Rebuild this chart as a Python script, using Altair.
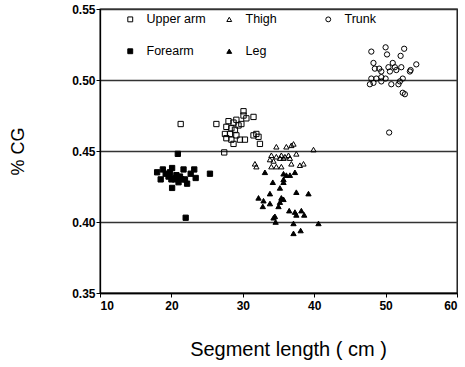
import altair as alt
import pandas as pd

parts = ["Upper arm", "Thigh", "Trunk", "Forearm", "Leg"]

upper_arm_x = [21.3, 26.3, 30.1, 30.1, 31.5, 30.5, 29.1, 28.0, 28.7, 29.4, 29.8, 27.7, 28.4, 28.9,
               27.5, 28.2, 29.1, 27.7, 28.4, 29.6, 30.3, 31.5, 31.9, 32.2, 32.4, 28.7, 27.4]
upper_arm_y = [0.469, 0.469, 0.478, 0.475, 0.474, 0.473, 0.472, 0.471, 0.470, 0.468, 0.469, 0.467, 0.466, 0.465,
               0.462, 0.462, 0.461, 0.459, 0.458, 0.458, 0.458, 0.461, 0.462, 0.460, 0.455, 0.455, 0.449]

forearm_x = [20.9, 18.0, 18.8, 19.2, 20.1, 19.8, 21.7, 23.2, 22.7, 23.4, 18.5, 20.3, 20.7, 21.2,
             20.5, 20.0, 21.4, 21.9, 21.0, 22.2, 20.1, 25.4, 22.0, 19.6]
forearm_y = [0.448, 0.435, 0.437, 0.434, 0.438, 0.435, 0.437, 0.437, 0.434, 0.431, 0.430, 0.431, 0.433, 0.432,
             0.430, 0.430, 0.430, 0.430, 0.428, 0.427, 0.424, 0.434, 0.403, 0.432]

thigh_x = [34.7, 36.1, 36.8, 37.1, 39.9, 34.0, 34.7, 35.4, 35.9, 36.4, 35.2, 35.7, 36.6, 33.8,
           37.5, 34.3, 31.7, 31.9, 34.0, 34.7, 35.4, 36.8, 38.0, 38.5]
thigh_y = [0.453, 0.453, 0.454, 0.455, 0.451, 0.447, 0.446, 0.447, 0.446, 0.447, 0.445, 0.445, 0.445, 0.444,
           0.448, 0.443, 0.441, 0.439, 0.439, 0.439, 0.439, 0.441, 0.440, 0.441]

leg_x = [33.1, 35.7, 36.1, 36.6, 37.3, 35.7, 34.2, 35.2, 37.5, 39.2, 35.7, 33.8, 32.2, 32.9, 35.4,
         35.7, 35.2, 33.8, 32.8, 35.0, 36.5, 37.3, 38.2, 37.5, 38.6, 34.5, 34.3, 34.6, 37.1, 40.6,
         37.1, 38.1]
leg_y = [0.435, 0.434, 0.433, 0.433, 0.435, 0.430, 0.428, 0.424, 0.421, 0.420, 0.428, 0.420, 0.417, 0.415, 0.417,
         0.416, 0.414, 0.413, 0.411, 0.411, 0.408, 0.407, 0.408, 0.405, 0.405, 0.404, 0.403, 0.400, 0.399, 0.399,
         0.392, 0.394]

trunk_x = [48.0, 50.0, 50.2, 52.6, 52.1, 48.3, 48.5, 49.1, 49.4, 50.4, 51.0, 51.3, 50.6, 51.5, 52.2,
           53.5, 54.3, 48.0, 48.7, 49.4, 50.0, 48.3, 49.4, 50.8, 51.8, 52.0, 52.4, 52.4, 52.7, 50.5,
           53.4, 47.8]
trunk_y = [0.520, 0.523, 0.518, 0.522, 0.517, 0.512, 0.508, 0.508, 0.506, 0.509, 0.512, 0.509, 0.506, 0.507, 0.509,
           0.507, 0.511, 0.501, 0.501, 0.502, 0.501, 0.498, 0.499, 0.497, 0.497, 0.499, 0.501, 0.491, 0.490, 0.463,
           0.506, 0.497]

rows = []
for name, xs, ys in [("Upper arm", upper_arm_x, upper_arm_y), ("Forearm", forearm_x, forearm_y),
                     ("Thigh", thigh_x, thigh_y), ("Leg", leg_x, leg_y), ("Trunk", trunk_x, trunk_y)]:
    for a, b in zip(xs, ys):
        rows.append({"part": name, "length": a, "cg": b})
df = pd.DataFrame(rows)

shapes = ["square", "triangle-up", "circle", "square", "triangle-up"]
fills = ["transparent", "transparent", "transparent", "black", "black"]
strokes = ["black", "black", "black", "black", "black"]

FONT = "Liberation Sans"

legend_def = alt.Legend(title=None)

chart = alt.Chart(df).mark_point(size=28, strokeWidth=1, opacity=1).encode(
    x=alt.X("length:Q", scale=alt.Scale(domain=[10, 60], nice=False),
            axis=alt.Axis(values=[10, 20, 30, 40, 50, 60], title="Segment length ( cm )",
                          grid=False, tickSize=4, labelPadding=3, labelFontSize=12,
                          labelFontWeight="bold",
                          titleFontSize=20, titleFontWeight="normal",
                          titleX=188, titleY=56, titleBaseline="middle", titleAlign="center")),
    y=alt.Y("cg:Q", scale=alt.Scale(domain=[0.35, 0.55], nice=False, zero=False),
            axis=alt.Axis(values=[0.35, 0.40, 0.45, 0.50, 0.55], format=".2f", title="% CG",
                          grid=True, gridColor="#333333", gridWidth=1.3, tickSize=4, labelPadding=1,
                          labelFontSize=12, labelFontWeight="bold",
                          titleFontSize=18, titleFontWeight="normal",
                          titleX=-82, titleY=142, titleAngle=270, titleAlign="center",
                          titleBaseline="middle")),
    shape=alt.Shape("part:N", scale=alt.Scale(domain=parts, range=shapes), legend=legend_def),
    fill=alt.Fill("part:N", scale=alt.Scale(domain=parts, range=fills), legend=legend_def),
    stroke=alt.Stroke("part:N", scale=alt.Scale(domain=parts, range=strokes), legend=legend_def),
).properties(
    width=357, height=284,
    autosize=alt.AutoSizeParams(type="none"),
    padding={"left": 100, "top": 9, "right": 8, "bottom": 74},
).configure_view(stroke="black", strokeWidth=1.3).configure_axis(
    labelFont=FONT, titleFont=FONT, domainColor="black", tickColor="black", labelColor="black",
    titleColor="black", domainWidth=1.3,
).configure_legend(
    orient="none", legendX=24, legendY=4, direction="horizontal", columns=3, gridAlign="all",
    columnPadding=17, rowPadding=19, labelFont=FONT, labelFontSize=12.5, labelColor="black",
    labelOffset=10, symbolStrokeWidth=1, symbolSize=24, padding=0,
)

chart.save("out.html", embed_options={"renderer": "svg", "actions": False})
